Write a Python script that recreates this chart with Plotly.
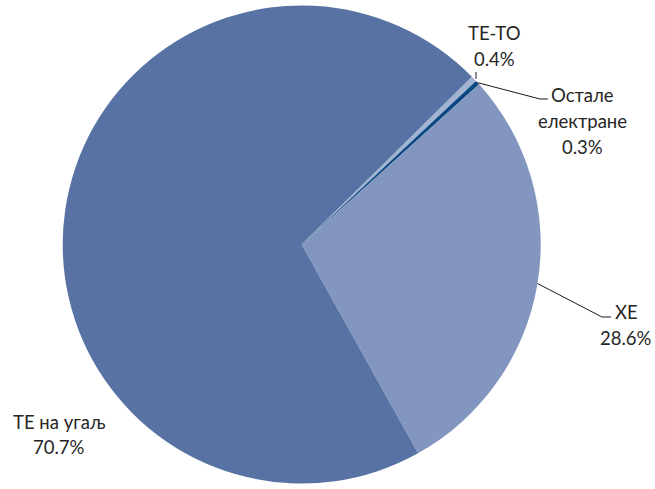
import math
import plotly.graph_objects as go

# Electricity generation shares by plant type (%)
labels = ["ТЕ-ТО", "Остале електране", "ХЕ", "ТЕ на угаљ"]
values = [0.4, 0.3, 28.6, 70.7]
label_lines = [["ТЕ-ТО", "0.4%"],
               ["Остале", "електране", "0.3%"],
               ["ХЕ", "28.6%"],
               ["ТЕ на угаљ", "70.7%"]]
colors = ["#A3B3D3", "#0B4783", "#8396BF", "#5872A4"]

W, H = 655, 489
ROT = 45.4
CX, R = 301.7, 239.0
CY = H / 2.0

fig = go.Figure(go.Pie(
    labels=labels,
    values=values,
    sort=False,
    direction="clockwise",
    rotation=ROT,
    marker=dict(colors=colors, line=dict(width=0)),
    textinfo="none",
    hoverinfo="label+percent",
    showlegend=False,
    domain=dict(x=[(CX - R) / W, (CX + R) / W], y=[0, 1]),
))

def px(x, y):
    return x / W, 1 - y / H

# angle (deg clockwise from 12 o'clock) at each slice's middle
total = sum(values)
mids = []
acc = 0.0
for v in values:
    mids.append(ROT + (acc + v / 2) / total * 360)
    acc += v

def edge_point(angle):
    a = math.radians(angle)
    return CX + R * math.sin(a), CY - R * math.cos(a)

# label placement: (centre x, first line y, line step) and leader elbow points
placements = [
    dict(x=494, y=33, step=26, leader=[(476, 72)]),
    dict(x=582, y=95, step=26, leader=[(540, 99), (548, 99)]),
    dict(x=626, y=312, step=26, leader=[(602, 317), (611, 317)]),
    dict(x=59, y=422, step=25, leader=None),
]

font = dict(family="Lato, 'Open Sans', sans-serif", size=18.5, color="#262626")
annotations = []
shapes = []
for lines, p, ang in zip(label_lines, placements, mids):
    for i, t in enumerate(lines):
        xx, yy = px(p["x"], p["y"] + i * p["step"])
        annotations.append(dict(x=xx, y=yy, xref="paper", yref="paper",
                                text=t, showarrow=False, font=font,
                                xanchor="center", yanchor="middle"))
    if p["leader"]:
        ex, ey = edge_point(ang)
        if len(p["leader"]) == 1:
            pts = [(p["leader"][0][0], p["leader"][0][1]), (p["leader"][0][0], ey)]
        else:
            pts = [(ex, ey)] + p["leader"]
        path = "M " + " L ".join("%.5f,%.5f" % px(a, b) for a, b in pts)
        shapes.append(dict(type="path", path=path, xref="paper", yref="paper",
                           line=dict(color="#1a1a1a", width=1)))

fig.update_layout(
    width=W, height=H,
    margin=dict(l=0, r=0, t=0, b=0),
    paper_bgcolor="white",
    plot_bgcolor="white",
    annotations=annotations,
    shapes=shapes,
)

fig.write_html("out.html")
